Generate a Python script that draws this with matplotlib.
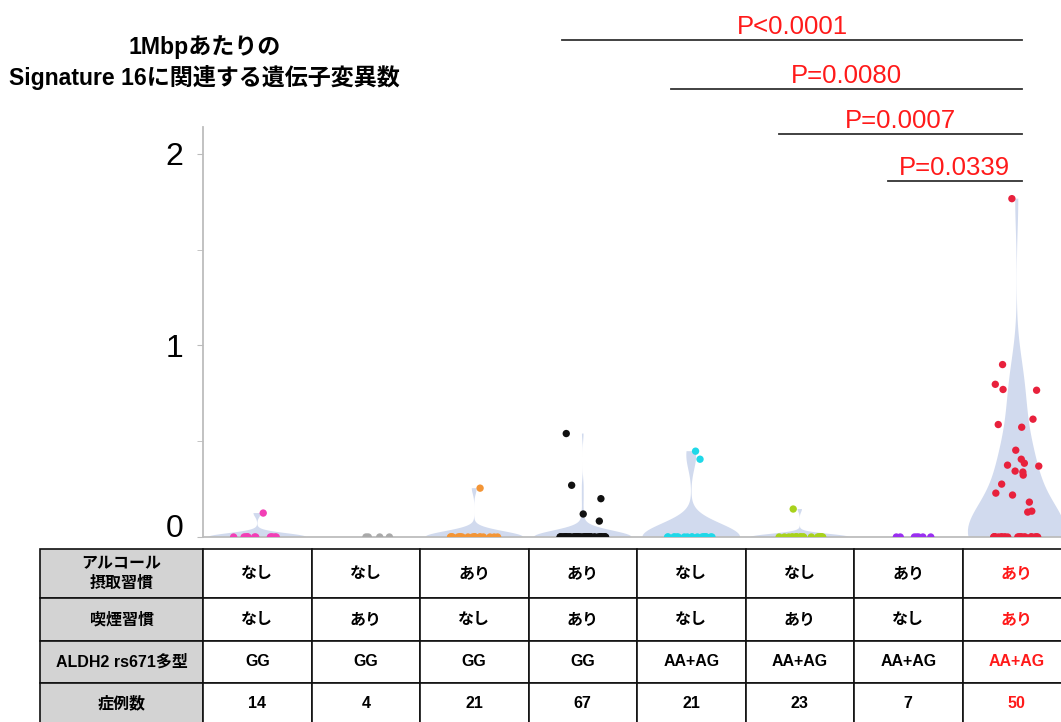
import matplotlib
matplotlib.use("Agg")
import matplotlib.pyplot as plt
import numpy as np

plt.rcParams['font.family'] = ['Liberation Sans', 'Noto Sans CJK JP', 'DejaVu Sans']

# values per group (non-zero points, the rest are 0)
n_cases = [14, 4, 21, 67, 21, 23, 7, 50]
nonzero = [
    [0.125],
    [],
    [0.255],
    [0.54, 0.27, 0.20, 0.12, 0.083],
    [0.448, 0.406],
    [0.146],
    [],
    [1.766, 0.90, 0.797, 0.77, 0.766, 0.615, 0.587, 0.573, 0.453, 0.406,
     0.385, 0.375, 0.37, 0.344, 0.339, 0.323, 0.276, 0.229, 0.219, 0.182,
     0.135, 0.13],
]
point_colors = ['#f23fb5', '#a9a9a9', '#f39536', '#111111',
                '#1fd8e8', '#a8d21c', '#9a2ff0', '#e8213c']

row_labels = ['アルコール\n摂取習慣', '喫煙習慣', 'ALDH2 rs671多型', '症例数']
alcohol = ['なし', 'なし', 'あり', 'あり', 'なし', 'なし', 'あり', 'あり']
smoking = ['なし', 'あり', 'なし', 'あり', 'なし', 'あり', 'なし', 'あり']
aldh2 = ['GG', 'GG', 'GG', 'GG', 'AA+AG', 'AA+AG', 'AA+AG', 'AA+AG']

p_pairs = [(3, 7), (4, 7), (5, 7), (6, 7)]
p_labels = ['P<0.0001', 'P=0.0080', 'P=0.0007', 'P=0.0339']
p_heights = [2.594, 2.339, 2.104, 1.859]

groups = [np.array(v + [0.0] * (n - len(v))) for v, n in zip(nonzero, n_cases)]

fig = plt.figure(figsize=(10.61, 7.22), dpi=100)
ax = fig.add_axes([203 / 1061, 185 / 722, 868 / 1061, 410 / 722])

# violins (constant groups have no density)
vpos = [i for i, g in enumerate(groups) if g.std() > 0]
parts = ax.violinplot([groups[i] for i in vpos], positions=vpos, widths=0.9,
                      showextrema=False)
for b in parts['bodies']:
    b.set_facecolor('#d1daee')
    b.set_edgecolor('none')
    b.set_alpha(1)

rng = np.random.default_rng(7)
for i, g in enumerate(groups):
    xj = i + rng.uniform(-0.22, 0.22, len(g))
    ax.scatter(xj, g, s=28, color=point_colors[i], edgecolors='none', zorder=3)

ax.set_xlim(-0.5, 7.5)
ax.set_ylim(0, 2.14)
ax.set_yticks([0, 1, 2])
ax.set_yticks([0.5, 1.5], minor=True)
ax.set_yticklabels(['0', '1', '2'])
ax.get_yticklabels()[0].set_va('baseline')
ax.tick_params(axis='y', which='both', length=4, color='#bbbbbb', pad=10,
               labelsize=23)
ax.set_xticks([])
for s in ['top', 'right']:
    ax.spines[s].set_visible(False)
for s in ['left', 'bottom']:
    ax.spines[s].set_color('#bdbdbd')
    ax.spines[s].set_linewidth(1.3)

# significance lines
for (a, b), lab, h in zip(p_pairs, p_labels, p_heights):
    x0, x1 = a - 0.19, b + 0.05
    ax.plot([x0, x1], [h, h], color='#333333', lw=1.3, clip_on=False)
    ax.annotate(lab, ((x0 + x1) / 2, h), xytext=(0, 4.5), textcoords='offset points',
                ha='center', va='baseline', color='#ff1a1a', fontsize=18.5,
                annotation_clip=False)

# title
fig.text(205 / 1061, 1 - 47 / 722, '1Mbpあたりの', ha='center', va='center',
         fontsize=16.6, fontweight='bold')
fig.text(204 / 1061, 1 - 77 / 722, 'Signature 16に関連する遺伝子変異数', ha='center',
         va='center', fontsize=16.6, fontweight='bold')

# table
cell_text = [
    [row_labels[0]] + alcohol,
    [row_labels[1]] + smoking,
    [row_labels[2]] + aldh2,
    [row_labels[3]] + [str(n) for n in n_cases],
]
tab_ax = fig.add_axes([0, 0, 1, 1])
tab_ax.axis('off')
col_w = [163] + [108.5] * 8
row_h = [49, 43, 42, 41]
tab = tab_ax.table(cellText=cell_text, colWidths=[w / 1031 for w in col_w],
                   cellLoc='center',
                   bbox=[40 / 1061, -2 / 722, 1031 / 1061, 175 / 722])
tab.auto_set_font_size(False)
tab.set_fontsize(11.5)
for (r, c), cell in tab.get_celld().items():
    cell.set_height(row_h[r] / 175)
    cell.set_linewidth(1.2)
    cell.set_edgecolor('#111111')
    cell.get_text().set_fontweight('bold')
    cell.get_text().set_linespacing(1.35)
    if c == 0:
        cell.set_facecolor('#d3d3d3')
    if c == 8:
        cell.get_text().set_color('#ff1a1a')

fig.savefig('out.png', dpi=100)
